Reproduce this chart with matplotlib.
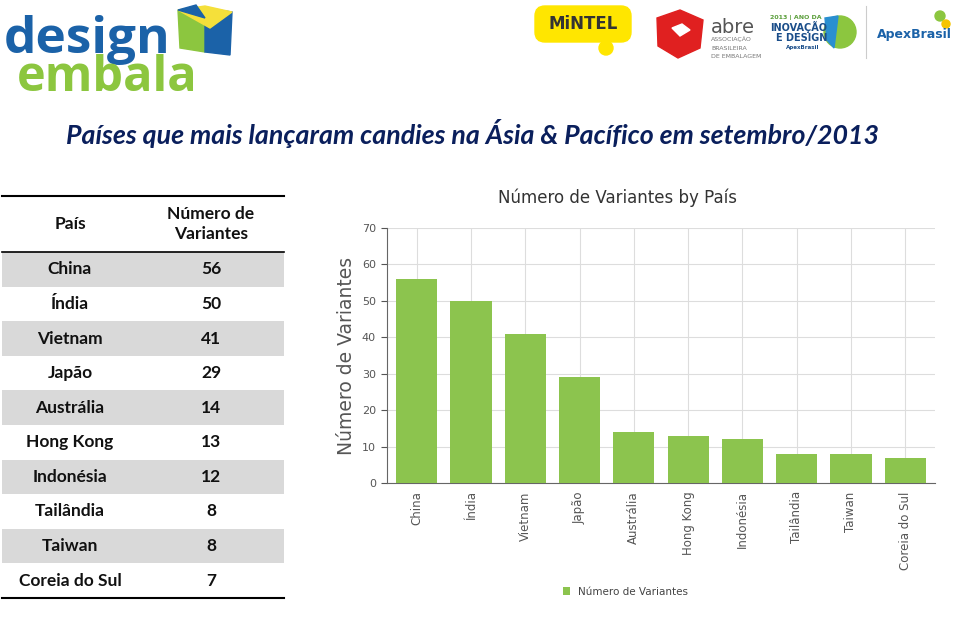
import matplotlib.pyplot as plt
from matplotlib.patches import Polygon, Rectangle, FancyBboxPatch

# Data
paises = ['China', 'Índia', 'Vietnam', 'Japão', 'Austrália', 'Hong Kong',
          'Indonésia', 'Tailândia', 'Taiwan', 'Coreia do Sul']
variantes = [56, 50, 41, 29, 14, 13, 12, 8, 8, 7]

titulo = 'Países que mais lançaram candies na Ásia & Pacífico em setembro/2013'
green = '#8cc44e'

fig = plt.figure(figsize=(9.6, 6.28), dpi=100)

# overlay in pixel coordinates for the slide decorations and the table
deco = fig.add_axes([0, 0, 1, 1])
deco.set_xlim(0, 960)
deco.set_ylim(628, 0)
deco.axis('off')

# --- logos (rough) ---
deco.text(4, 53, 'design', fontsize=37, fontweight='bold', color='#1b62a8',
          family='Open Sans', va='baseline')
deco.text(17, 91, 'embala', fontsize=35, fontweight='bold', color='#8cc63f',
          family='Open Sans', va='baseline')
deco.add_patch(Polygon([[178, 10], [205, 8], [205, 52], [180, 48]], color='#8cc63f'))
deco.add_patch(Polygon([[205, 8], [232, 12], [230, 55], [205, 52]], color='#1b62a8'))
deco.add_patch(Polygon([[178, 10], [205, 6], [232, 12], [210, 28]], color='#f5e03a'))
deco.add_patch(Polygon([[178, 10], [196, 5], [205, 18]], color='#1b62a8'))

deco.add_patch(FancyBboxPatch((535, 6), 96, 36, boxstyle='round,pad=0,rounding_size=10',
                              color='#ffe600'))
deco.add_patch(plt.Circle((606, 48), 7, color='#ffe600'))
deco.text(583, 24, 'MiNTEL', fontsize=12, fontweight='bold', color='#333333',
          ha='center', va='center')
deco.add_patch(Polygon([[657, 18], [680, 10], [703, 20], [700, 48], [678, 58], [658, 46]],
                       color='#e02020'))
deco.add_patch(Polygon([[672, 28], [682, 24], [690, 30], [680, 36]], color='white'))
deco.text(711, 33, 'abre', fontsize=14, color='#555555', va='baseline')
deco.text(711, 41, 'ASSOCIAÇÃO', fontsize=4.5, color='#777777', va='baseline')
deco.text(711, 50, 'BRASILEIRA', fontsize=4.5, color='#777777', va='baseline')
deco.text(711, 58, 'DE EMBALAGEM', fontsize=4.5, color='#777777', va='baseline')
deco.text(770, 19, '2013 | ANO DA', fontsize=4.5, color='#5a9e3a', fontweight='bold')
deco.text(770, 31, 'INOVAÇÃO', fontsize=7, color='#1b4e8a', fontweight='bold')
deco.text(776, 41, 'E DESIGN', fontsize=7, color='#1b4e8a', fontweight='bold')
deco.text(786, 49, 'ApexBrasil', fontsize=4, color='#1b4e8a', fontweight='bold')
deco.add_patch(plt.Circle((840, 32), 16, color='#8cc63f'))
deco.add_patch(Polygon([[825, 18], [838, 16], [834, 48], [827, 40]], color='#2a8fd0'))
deco.plot([866, 866], [6, 58], color='#cccccc', lw=0.8)
deco.text(877, 38, 'ApexBrasil', fontsize=9, color='#1b62a8', fontweight='bold')
deco.add_patch(plt.Circle((940, 16), 5, color='#8cc63f'))
deco.add_patch(plt.Circle((946, 24), 4, color='#f5c400'))

# --- slide title ---
deco.text(472, 134, titulo, fontsize=19.3, fontweight='bold', fontstyle='italic',
          color='#0a1f5c', family='Lato', ha='center', va='center')

# --- table ---
tx0, tx1 = 2, 284
c1, c2 = 70, 211
top, head_bot, row_h = 196, 252, 34.6
deco.plot([tx0, tx1], [top, top], color='black', lw=1.5)
deco.text(c1, 224, 'País', fontsize=12.5, fontweight='bold', family='Lato',
          ha='center', va='center', color='#111111')
deco.text(c2, 224, 'Número de\nVariantes', fontsize=12.5, fontweight='bold', family='Lato',
          ha='center', va='center', color='#111111', linespacing=1.35)
deco.plot([tx0, tx1], [head_bot, head_bot], color='black', lw=1.2)
for i, (p, v) in enumerate(zip(paises, variantes)):
    y0 = head_bot + i * row_h
    if i % 2 == 0:
        deco.add_patch(Rectangle((tx0, y0), tx1 - tx0, row_h, color='#d9d9d9', lw=0))
    deco.text(c1, y0 + row_h / 2, p, fontsize=12.5, fontweight='bold', family='Lato',
              ha='center', va='center', color='#111111')
    deco.text(c2, y0 + row_h / 2, str(v), fontsize=12.5, fontweight='bold', family='Lato',
              ha='center', va='center', color='#111111')
bot = head_bot + len(paises) * row_h
deco.plot([tx0, tx1], [bot, bot], color='black', lw=1.5)

# --- bar chart ---
ax = fig.add_axes([387 / 960, 1 - 483 / 628, 548 / 960, 255 / 628])
ax.bar(paises, variantes, width=0.76, color=green, zorder=3, label='Número de Variantes')
ax.set_ylim(0, 70)
ax.set_xlim(-0.55, len(paises) - 0.45)
ax.set_yticks(range(0, 71, 10))
ax.grid(True, color='#dddddd', lw=0.8, zorder=0)
for s in ['top', 'right']:
    ax.spines[s].set_visible(False)
for s in ['left', 'bottom']:
    ax.spines[s].set_color('#666666')
ax.tick_params(axis='x', rotation=90, labelsize=8.5, colors='#555555', length=0, pad=6)
ax.tick_params(axis='y', labelsize=8, colors='#555555', length=4, pad=4)
ax.set_ylabel('Número de Variantes', fontsize=13.5, color='#555555', labelpad=4)
ax.set_title('Número de Variantes by País', fontsize=12, color='#333333', pad=18, x=0.42)
ax.legend(loc='upper center', bbox_to_anchor=(0.435, -0.37), frameon=False,
          fontsize=7.5, handlelength=0.7, handleheight=0.7, labelcolor='#444444')

fig.savefig('out.png', dpi=100)
